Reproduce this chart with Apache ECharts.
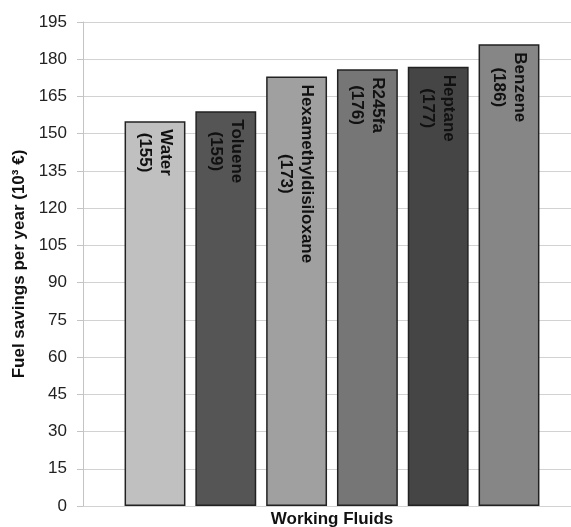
<!DOCTYPE html>
<html>
<head>
<meta charset="utf-8">
<script src="https://cdn.jsdelivr.net/npm/echarts@6/dist/echarts.min.js"></script>
<style>
  html, body { margin: 0; padding: 0; background: #fff; }
  #chart { width: 571px; height: 527px; }
</style>
</head>
<body>
<div id="chart"></div>
<script>
const categories = ['Water', 'Toluene', 'Hexamethyldisiloxane', 'R245fa', 'Heptane', 'Benzene'];
const savings = [155, 159, 173, 176, 177, 186];
const barColors = ['#c0c0c0', '#555555', '#a0a0a0', '#767676', '#454545', '#868686'];
const yMin = 0, yMax = 195, yStep = 15;
const yTitle = 'Fuel savings per year (10³ €)';
const xTitle = 'Working Fluids';

const FONT = '"Liberation Sans", Arial, sans-serif';
const LABEL_SIZE = 17;

const cv = document.createElement('canvas').getContext('2d');
cv.font = 'bold ' + LABEL_SIZE + 'px ' + FONT;
function blockWidth(name, v) {
  return Math.max(cv.measureText(name).width, cv.measureText('(' + v + ')').width);
}

const barData = savings.map((v, i) => ({
  value: v,
  itemStyle: { color: barColors[i] },
  label: { distance: 8 + blockWidth(categories[i], v) / 2 }
}));

const chart = echarts.init(document.getElementById('chart'), null, { renderer: 'canvas' });
chart.setOption({
  animation: false,
  backgroundColor: '#ffffff',
  textStyle: { fontFamily: FONT },
  grid: [
    { left: 83, right: 0, top: 22, bottom: 21, outerBoundsMode: 'none', containLabel: false },
    { left: 119.6, right: 26.6, top: 22, bottom: 21, outerBoundsMode: 'none', containLabel: false }
  ],
  xAxis: [
    { gridIndex: 0, type: 'value', show: false, min: 0, max: 1 },
    {
      gridIndex: 1, type: 'category', data: categories,
      axisLine: { show: false }, axisTick: { show: false }, axisLabel: { show: false },
      name: xTitle, nameLocation: 'middle', nameGap: 5,
      nameTextStyle: { fontFamily: FONT, fontSize: 17, fontWeight: 'bold', color: '#111', verticalAlign: 'top' }
    }
  ],
  yAxis: [
    {
      gridIndex: 0, type: 'value', min: yMin, max: yMax, interval: yStep,
      axisLine: { show: true, lineStyle: { color: '#c4c4c4', width: 1 } },
      axisTick: { show: true, length: 6, lineStyle: { color: '#c4c4c4' } },
      axisLabel: { margin: 16, fontFamily: FONT, fontSize: 17, color: '#222' },
      splitLine: { show: true, lineStyle: { color: '#d2d2d2', width: 1 } },
      name: yTitle, nameLocation: 'middle', nameGap: 46,
      nameTextStyle: { fontFamily: FONT, fontSize: 17, fontWeight: 'bold', color: '#111' }
    },
    { gridIndex: 1, type: 'value', min: yMin, max: yMax, interval: yStep, show: false }
  ],
  series: [{
    type: 'bar',
    xAxisIndex: 1, yAxisIndex: 1,
    data: barData,
    barCategoryGap: '14%',
    itemStyle: { borderColor: '#222', borderWidth: 1.5 },
    label: {
      show: true,
      position: 'insideTop',
      rotate: -90,
      align: 'center',
      verticalAlign: 'middle',
      formatter: '{b}\n({c})',
      fontFamily: FONT,
      fontSize: LABEL_SIZE,
      fontWeight: 'bold',
      lineHeight: 21,
      color: '#111'
    }
  }]
});
</script>
</body>
</html>
